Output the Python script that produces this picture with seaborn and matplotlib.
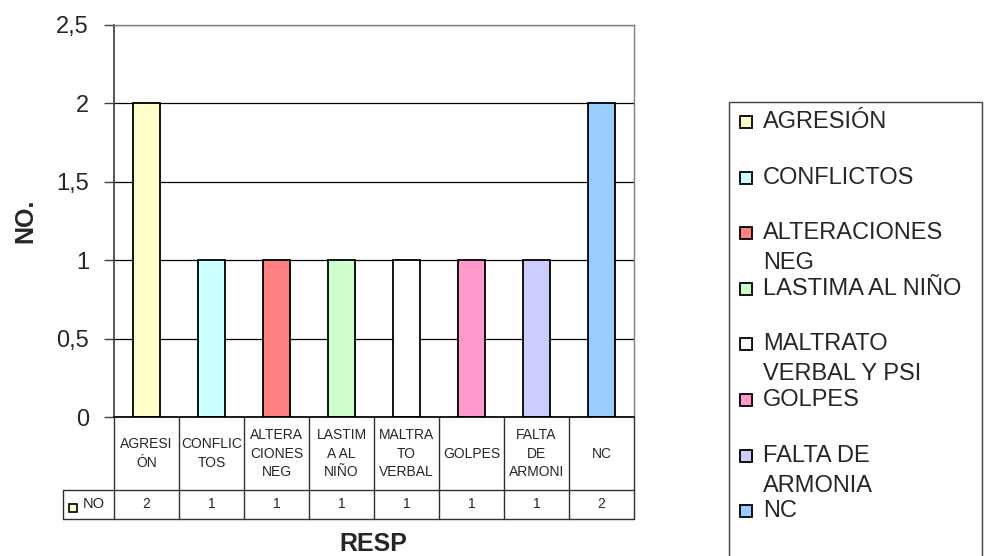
import matplotlib
matplotlib.use("Agg")
import matplotlib.pyplot as plt
import matplotlib.patches as mpatches
import matplotlib.transforms as mtransforms
import seaborn as sns

# data
categories = ["AGRESIÓN", "CONFLICTOS", "ALTERACIONES NEG", "LASTIMA AL NIÑO",
              "MALTRATO VERBAL Y PSI", "GOLPES", "FALTA DE ARMONIA", "NC"]
values = [2, 1, 1, 1, 1, 1, 1, 2]
table_labels = ["AGRESI\nÓN", "CONFLIC\nTOS", "ALTERA\nCIONES\nNEG", "LASTIM\nA AL\nNIÑO",
                "MALTRA\nTO\nVERBAL", "GOLPES", "FALTA\nDE\nARMONI", "NC"]
legend_labels = ["AGRESIÓN", "CONFLICTOS", "ALTERACIONES\nNEG", "LASTIMA AL NIÑO",
                 "MALTRATO\nVERBAL Y PSI", "GOLPES", "FALTA DE\nARMONIA", "NC"]
colors = ["#FFFFCC", "#CCFFFF", "#FF8080", "#CCFFCC",
          "#FFFFFF", "#FF99CC", "#CCCCFF", "#99CCFF"]
yticks = [0, 0.5, 1, 1.5, 2, 2.5]
ytick_labels = ["0", "0,5", "1", "1,5", "2", "2,5"]

sns.set_theme(style="white")
plt.rcParams["font.family"] = ["Liberation Sans", "DejaVu Sans"]

W, H = 984, 556
fig = plt.figure(figsize=(W / 100, H / 100), dpi=100)
ax = fig.add_axes([114 / W, 1 - 417 / H, 520 / W, 392 / H])

sns.barplot(x=categories, y=values, hue=categories, palette=colors, width=0.42,
            edgecolor="black", linewidth=1.3, saturation=1, legend=False, ax=ax)

ax.set_xlim(-0.5, len(categories) - 0.5)
ax.set_ylim(0, 2.5)
ax.set_yticks(yticks)
ax.set_yticklabels(ytick_labels, fontsize=17)
ax.tick_params(axis="y", length=7, width=1, color="#404040", pad=11, left=True)
ax.tick_params(axis="x", length=0, labelbottom=False)
ax.yaxis.grid(True, color="black", linewidth=0.9)
ax.set_axisbelow(True)
for side in ["top", "right"]:
    ax.spines[side].set_color("#808080")
    ax.spines[side].set_linewidth(1)
ax.spines["left"].set_color("#404040")
ax.spines["bottom"].set_color("black")

ax.set_ylabel("NO.", fontsize=18, fontweight="bold", ha="center", va="center")
ax.yaxis.set_label_coords((25 - 114) / 520, 0.5)
ax.set_xlabel("RESP", fontsize=18, fontweight="bold", va="center")
ax.xaxis.set_label_coords((373 - 114) / 520, (417 - 544) / 392)

# data table under the axis
trans = mtransforms.blended_transform_factory(ax.transData, ax.transAxes)
y_mid = (417 - 490) / 392
y_bot = (417 - 519) / 392
line_kw = dict(color="#303030", linewidth=1, clip_on=False)
for i in range(len(categories) + 1):
    ax.plot([i - 0.5, i - 0.5], [0, y_bot], transform=trans, **line_kw)
x_left = -0.5 + (63 - 114) / 65
ax.plot([x_left, len(categories) - 0.5], [y_mid, y_mid], transform=trans, **line_kw)
ax.plot([x_left, len(categories) - 0.5], [y_bot, y_bot], transform=trans, **line_kw)
ax.plot([x_left, x_left], [y_mid, y_bot], transform=trans, **line_kw)
for i, (lab, v) in enumerate(zip(table_labels, values)):
    ax.text(i, y_mid / 2, lab, transform=trans, ha="center", va="center",
            fontsize=10, linespacing=1.45, clip_on=False)
    ax.text(i, (y_mid + y_bot) / 2, str(v), transform=trans, ha="center",
            va="center", fontsize=10, clip_on=False)
ax.add_patch(mpatches.Rectangle((x_left + 6 / 65, (417 - 512) / 392), 8 / 65, 8 / 392,
                                transform=trans, facecolor=colors[0], edgecolor="black",
                                linewidth=1.2, clip_on=False))
ax.text(x_left + 20 / 65, (y_mid + y_bot) / 2, "NO", transform=trans, ha="left",
        va="center", fontsize=10.5, clip_on=False)

# legend box drawn at the right
fig.add_artist(mpatches.Rectangle((729 / W, -0.05), (982 - 729) / W, 1.05 - 102 / H,
                                  transform=fig.transFigure, facecolor="none",
                                  edgecolor="#404040", linewidth=1))
for i, (lab, c) in enumerate(zip(legend_labels, colors)):
    base = 128 + i * 55.6
    fig.add_artist(mpatches.Rectangle((740 / W, 1 - base / H), 12 / W, 12 / H,
                                      transform=fig.transFigure, facecolor=c,
                                      edgecolor="black", linewidth=1.3))
    for k, line in enumerate(lab.split("\n")):
        fig.text(763 / W, 1 - (base + k * 30) / H, line, ha="left", va="baseline",
                 fontsize=17)

fig.savefig("out.png", dpi=100)
